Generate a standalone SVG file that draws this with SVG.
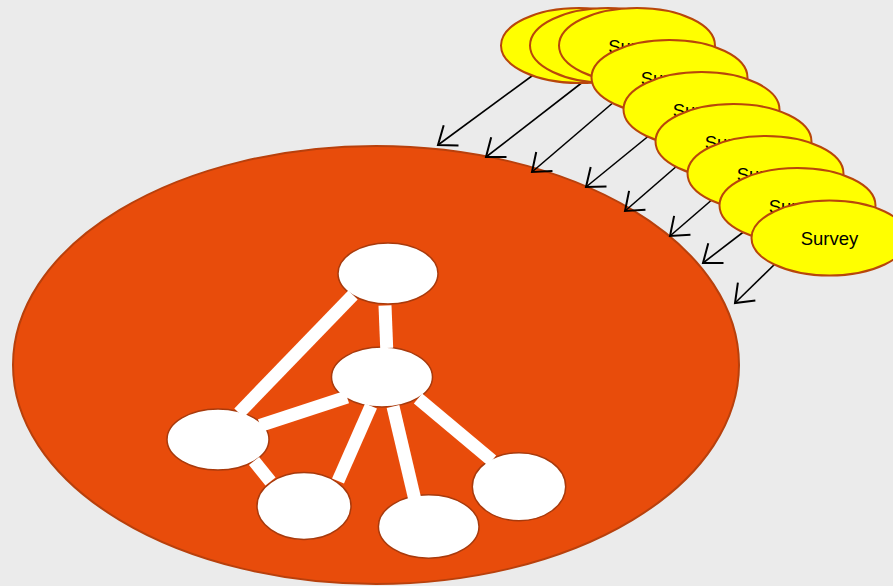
<svg xmlns="http://www.w3.org/2000/svg" width="893" height="586" viewBox="0 0 893 586">
<defs>
<marker id="arr" markerUnits="userSpaceOnUse" markerWidth="30" markerHeight="30" viewBox="-16 -12 18 24" refX="0" refY="0" orient="auto">
<path d="M-13,-10 L0,0 L-13,10" fill="none" stroke="#000" stroke-width="1.6"/>
</marker>
</defs>
<style>
.bg{fill:#EBEBEB}
.big{fill:#E84C0B;stroke:#B8400C;stroke-width:2}
.survey ellipse{fill:#FFFF00;stroke:#B8460B;stroke-width:2}
.survey text{font-family:"Liberation Sans",Arial,sans-serif;font-size:18.5px;fill:#000;text-anchor:middle}
.arrow{stroke:#000;stroke-width:1.6;fill:none;marker-end:url(#arr)}
.node ellipse{fill:#FFFFFF;stroke:#A83A0C;stroke-width:1.5}
.edge{stroke:#FFFFFF;stroke-width:13;fill:none}
</style>
<rect class="bg" x="0" y="0" width="893" height="586"/>
<g id="world">
<ellipse class="big" cx="376" cy="365" rx="363" ry="219"/>
</g>
<g id="arrows">
<line class="arrow" x1="536" y1="73" x2="438" y2="145"/>
<line class="arrow" x1="588" y1="78" x2="486" y2="157"/>
<line class="arrow" x1="615" y1="101" x2="532" y2="172"/>
<line class="arrow" x1="651" y1="134" x2="586" y2="187"/>
<line class="arrow" x1="678" y1="165" x2="625" y2="211"/>
<line class="arrow" x1="714" y1="198" x2="670" y2="236"/>
<line class="arrow" x1="746" y1="230" x2="703" y2="263"/>
<line class="arrow" x1="778" y1="261" x2="735" y2="303"/>
</g>
<g id="survey1" class="survey"><ellipse cx="579" cy="45.5" rx="78" ry="37.5"/></g>
<g id="survey2" class="survey"><ellipse cx="608" cy="45.5" rx="78" ry="37.5"/></g>
<g id="survey3" class="survey"><ellipse cx="637" cy="45.5" rx="78" ry="37.5"/><text x="637" y="52.5">Survey</text></g>
<g id="survey4" class="survey"><ellipse cx="669.5" cy="77.5" rx="78" ry="37.5"/><text x="669.5" y="84.5">Survey</text></g>
<g id="survey5" class="survey"><ellipse cx="701.5" cy="109.5" rx="78" ry="37.5"/><text x="701.5" y="116.5">Survey</text></g>
<g id="survey6" class="survey"><ellipse cx="733.5" cy="141.5" rx="78" ry="37.5"/><text x="733.5" y="148.5">Survey</text></g>
<g id="survey7" class="survey"><ellipse cx="765.5" cy="173.5" rx="78" ry="37.5"/><text x="765.5" y="180.5">Survey</text></g>
<g id="survey8" class="survey"><ellipse cx="797.5" cy="205.5" rx="78" ry="37.5"/><text x="797.5" y="212.5">Survey</text></g>
<g id="survey9" class="survey"><ellipse cx="829.5" cy="238" rx="78" ry="37.5"/><text x="829.5" y="245">Survey</text></g>
<g id="nodeA" class="node"><ellipse cx="388" cy="273.5" rx="50" ry="30.5"/></g>
<g id="nodeB" class="node"><ellipse cx="382" cy="377" rx="50.5" ry="30"/></g>
<g id="nodeC" class="node"><ellipse cx="218" cy="439.5" rx="51" ry="30.5"/></g>
<g id="nodeD" class="node"><ellipse cx="304" cy="506" rx="47" ry="33.5"/></g>
<g id="nodeE" class="node"><ellipse cx="428.7" cy="526.5" rx="50.3" ry="31.7"/></g>
<g id="nodeF" class="node"><ellipse cx="519" cy="486.7" rx="46.7" ry="34"/></g>
<g id="edges">
<line class="edge" x1="385" y1="305.5" x2="386.7" y2="348"/>
<line class="edge" x1="353" y1="295" x2="239" y2="413"/>
<line class="edge" x1="347" y1="397" x2="260" y2="425.5"/>
<line class="edge" x1="254" y1="461" x2="270.5" y2="481.5"/>
<line class="edge" x1="371" y1="406" x2="338" y2="481"/>
<line class="edge" x1="393" y1="406.5" x2="414.5" y2="498"/>
<line class="edge" x1="418" y1="398.5" x2="492" y2="460.5"/>
</g>
</svg>
